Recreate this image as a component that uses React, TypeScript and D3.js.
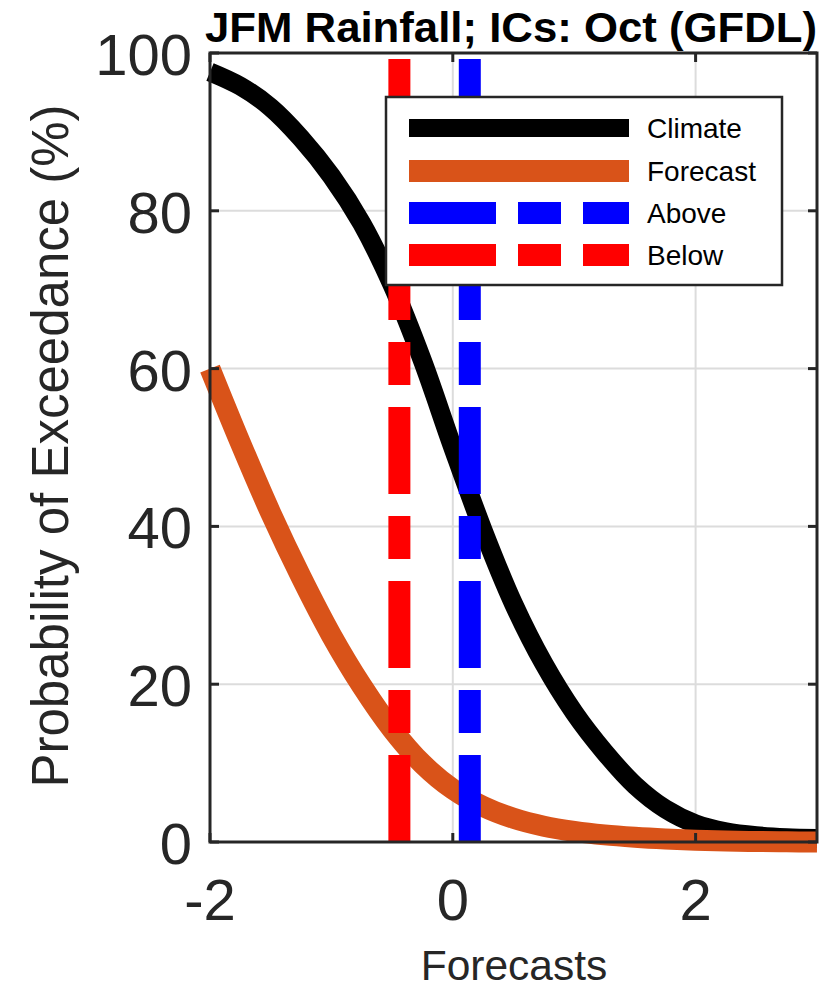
import React from "react";
import * as d3 from "d3";

// ---- data ----
const xGrid = [-2, -1.75, -1.5, -1.25, -1, -0.75, -0.5, -0.25, 0, 0.25, 0.5, 0.75, 1, 1.25, 1.5, 1.75, 2, 2.25, 2.5, 2.75, 3];
const climate = [97.6, 95.8, 93.1, 89.2, 84.4, 78.4, 70.6, 61, 50, 39.5, 30.2, 22.6, 16.4, 11.4, 7.2, 4.2, 2.3, 1.3, 0.8, 0.55, 0.45];
const forecast = [60, 50.6, 41.7, 33.6, 26.2, 19.8, 14.3, 9.9, 6.7, 4.5, 3.0, 2.0, 1.35, 0.9, 0.6, 0.38, 0.22, 0.12, 0.06, 0.02, 0];
const aboveX = 0.14;
const belowX = -0.44;
const xTicks = [-2, 0, 2];
const yTicks = [0, 20, 40, 60, 80, 100];
const legendLabels = ["Climate", "Forecast", "Above", "Below"];
const titleText = "JFM Rainfall; ICs: Oct (GFDL)";
const xLabel = "Forecasts";
const yLabel = "Probability of Exceedance (%)";

const W = 835;
const H = 988;
const L = 210, R = 817, T = 53, B = 842;
const FONT = "'Liberation Sans', Arial, Helvetica, sans-serif";
const AX = "#262626";
const DASH = "87,22,43,22";

export default function App() {
  const x = d3.scaleLinear().domain([-2, 3]).range([L, R]);
  const y = d3.scaleLinear().domain([0, 100]).range([B, T]);
  const line = d3
    .line<number>()
    .x((_, i) => x(xGrid[i]))
    .y((d) => y(d))
    .curve(d3.curveCatmullRom.alpha(0.5));

  const legendRows = [
    { label: legendLabels[0], color: "#000000", w: 18, dash: undefined },
    { label: legendLabels[1], color: "#D95319", w: 22, dash: undefined },
    { label: legendLabels[2], color: "#0000FF", w: 22, dash: DASH },
    { label: legendLabels[3], color: "#FF0000", w: 22, dash: DASH },
  ];
  const legX = 386, legY = 97, legW = 396, legH = 188;
  const rowY = [128, 171, 213, 255];

  return (
    <svg
      width={W}
      height={H}
      style={{ position: "absolute", left: 0, top: 0, background: "#fff" }}
      fontFamily={FONT}
    >
      <rect x={0} y={0} width={W} height={H} fill="#fff" />
      {/* grid */}
      {xTicks.map((t) => (
        <line key={"gx" + t} x1={x(t)} x2={x(t)} y1={T} y2={B} stroke="#dcdcdc" strokeWidth={2} />
      ))}
      {yTicks.map((t) => (
        <line key={"gy" + t} x1={L} x2={R} y1={y(t)} y2={y(t)} stroke="#dcdcdc" strokeWidth={2} />
      ))}

      {/* curves */}
      <path d={line(climate) || ""} fill="none" stroke="#000" strokeWidth={19} strokeLinejoin="round" />
      <path d={line(forecast) || ""} fill="none" stroke="#D95319" strokeWidth={21} strokeLinejoin="round" />
      <line x1={x(aboveX)} x2={x(aboveX)} y1={y(0)} y2={y(100)} stroke="#0000FF" strokeWidth={22} strokeDasharray={DASH} />
      <line x1={x(belowX)} x2={x(belowX)} y1={y(0)} y2={y(100)} stroke="#FF0000" strokeWidth={22} strokeDasharray={DASH} />

      {/* axes box */}
      <rect x={L} y={T} width={R - L} height={B - T} fill="none" stroke={AX} strokeWidth={3} />
      {xTicks.map((t) => (
        <g key={"tx" + t}>
          <line x1={x(t)} x2={x(t)} y1={B} y2={B - 9} stroke={AX} strokeWidth={3} />
          <line x1={x(t)} x2={x(t)} y1={T} y2={T + 9} stroke={AX} strokeWidth={3} />
          <text x={x(t)} y={920} textAnchor="middle" fontSize={58} fill={AX}>
            {t < 0 ? "-" + Math.abs(t) : String(t)}
          </text>
        </g>
      ))}
      {yTicks.map((t) => (
        <g key={"ty" + t}>
          <line x1={L} x2={L + 9} y1={y(t)} y2={y(t)} stroke={AX} strokeWidth={3} />
          <line x1={R} x2={R - 9} y1={y(t)} y2={y(t)} stroke={AX} strokeWidth={3} />
          <text x={192} y={y(t) + 22} textAnchor="end" fontSize={58} fill={AX}>
            {t}
          </text>
        </g>
      ))}

      {/* legend */}
      <rect x={legX} y={legY} width={legW} height={legH} fill="#fff" stroke={AX} strokeWidth={2.5} />
      {legendRows.map((r, i) => (
        <g key={r.label}>
          <line x1={409} x2={629} y1={rowY[i]} y2={rowY[i]} stroke={r.color} strokeWidth={r.w} strokeDasharray={r.dash} />
          <text x={647} y={rowY[i] + 10} fontSize={28} fill="#000">
            {r.label}
          </text>
        </g>
      ))}

      {/* labels */}
      <text x={205} y={42} fontSize={42} fontWeight="bold" fill="#000" textLength={612} lengthAdjust="spacingAndGlyphs">
        {titleText}
      </text>
      <text x={514} y={980} textAnchor="middle" fontSize={42.5} fill={AX}>
        {xLabel}
      </text>
      <text transform={`translate(68,446) rotate(-90)`} textAnchor="middle" fontSize={51} fill={AX}>
        {yLabel}
      </text>
    </svg>
  );
}
